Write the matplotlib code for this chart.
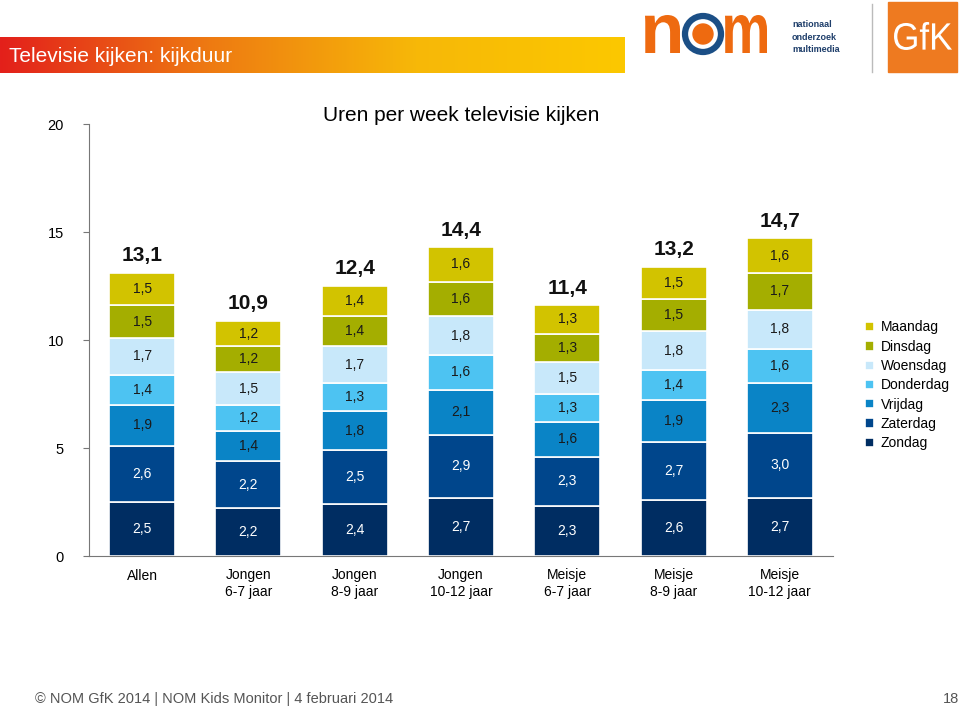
import matplotlib.pyplot as plt
import matplotlib.patches as mpatches
from matplotlib.colors import LinearSegmentedColormap
from matplotlib.textpath import TextPath
from matplotlib.font_manager import FontProperties
from matplotlib.transforms import Affine2D
import numpy as np

plt.rcParams['font.family'] = ['Liberation Sans', 'DejaVu Sans']

categories = ['Allen', 'Jongen\n6-7 jaar', 'Jongen\n8-9 jaar', 'Jongen\n10-12 jaar',
              'Meisje\n6-7 jaar', 'Meisje\n8-9 jaar', 'Meisje\n10-12 jaar']
days = ['Zondag', 'Zaterdag', 'Vrijdag', 'Donderdag', 'Woensdag', 'Dinsdag', 'Maandag']
zondag = [2.5, 2.2, 2.4, 2.7, 2.3, 2.6, 2.7]
zaterdag = [2.6, 2.2, 2.5, 2.9, 2.3, 2.7, 3.0]
vrijdag = [1.9, 1.4, 1.8, 2.1, 1.6, 1.9, 2.3]
donderdag = [1.4, 1.2, 1.3, 1.6, 1.3, 1.4, 1.6]
woensdag = [1.7, 1.5, 1.7, 1.8, 1.5, 1.8, 1.8]
dinsdag = [1.5, 1.2, 1.4, 1.6, 1.3, 1.5, 1.7]
maandag = [1.5, 1.2, 1.4, 1.6, 1.3, 1.5, 1.6]
totals = [13.1, 10.9, 12.4, 14.4, 11.4, 13.2, 14.7]

series = [zondag, zaterdag, vrijdag, donderdag, woensdag, dinsdag, maandag]
colors = ['#002D62', '#00468C', '#0A84C6', '#4DC3F2', '#C8E8FA', '#A4AE00', '#D2C300']
text_colors = ['white', 'white', '#1a1a1a', '#1a1a1a', '#1a1a1a', '#1a1a1a', '#1a1a1a']

fig = plt.figure(figsize=(9.6, 7.08), dpi=100)

# header banner with gradient
hdr = fig.add_axes([0, 1 - 73 / 708, 625 / 960, 36 / 708])
grad = np.linspace(0, 1, 256).reshape(1, -1)
cm = LinearSegmentedColormap.from_list('bn', ['#E3201B', '#EE7A12', '#F7B808', '#FCC800'])
hdr.imshow(grad, aspect='auto', cmap=cm, extent=[0, 1, 0, 1])
hdr.axis('off')
hdr.text(0.014, 0.45, 'Televisie kijken: kijkduur', color='white', fontsize=15,
         va='center', ha='left', transform=hdr.transAxes)

# logos (pixel coordinates, y downwards)
logo = fig.add_axes([0, 1 - 80 / 708, 1, 80 / 708])
logo.set_xlim(0, 960)
logo.set_ylim(80, 0)
logo.axis('off')


def glyph(s, x0, x1, y0, y1, color, weight='bold'):
    tp = TextPath((0, 0), s, size=10, prop=FontProperties(family='Liberation Sans', weight=weight))
    ext = tp.get_extents()
    tr = Affine2D().translate(-ext.x0, -ext.y0).scale((x1 - x0) / ext.width,
                                                       -(y1 - y0) / ext.height).translate(x0, y1)
    logo.add_patch(mpatches.PathPatch(tr.transform_path(tp), color=color, lw=0))


glyph('n', 645, 680, 15, 53, '#EE6A10')
logo.add_patch(mpatches.Circle((703, 34), 18, fill=False, ec='#1B4F86', lw=4.5))
logo.add_patch(mpatches.Circle((703, 34), 10, color='#EE6A10'))
glyph('m', 725, 767, 15, 53, '#EE6A10')
logo.text(792, 37, 'nationaal\nonderzoek\nmultimedia', color='#1F3F6B',
          fontsize=6.5, fontweight='bold', va='center', ha='left', linespacing=1.5)
logo.plot([872, 872], [4, 72], color='#BBBBBB', lw=1)
logo.add_patch(mpatches.Rectangle((888, 2), 69, 70, color='#EE7A20'))
glyph('GfK', 894, 952, 22, 50, 'white', weight='normal')

ax = fig.add_axes([89 / 960, 1 - 556 / 708, (833 - 89) / 960, (556 - 124) / 708])
x = np.arange(len(categories))
bottom = np.zeros(len(categories))
for vals, col, tc, day in zip(series, colors, text_colors, days):
    ax.bar(x, vals, 0.62, bottom=bottom, color=col, edgecolor='white',
           linewidth=1.2, label=day)
    for xi, b, v in zip(x, bottom, vals):
        ax.text(xi, b + v / 2, f'{v:.1f}'.replace('.', ','), ha='center', va='center',
                color=tc, fontsize=10)
    bottom += np.array(vals)

for xi, b, t in zip(x, bottom, totals):
    ax.text(xi, b + 0.35, f'{t:.1f}'.replace('.', ','), ha='center', va='bottom',
            fontsize=15, fontweight='bold', color='#111111')

ax.set_xlim(-0.5, len(categories) - 0.5)
ax.set_ylim(0, 20)
ax.set_yticks([0, 5, 10, 15, 20])
ax.set_xticks(x)
ax.set_xticklabels(categories, fontsize=10)
ax.tick_params(axis='x', length=0, pad=9)
ax.tick_params(axis='y', length=4, labelsize=10.5, color='#777777', pad=14)
for s in ['top', 'right']:
    ax.spines[s].set_visible(False)
ax.spines['left'].set_color('#777777')
ax.spines['bottom'].set_color('#777777')
ax.set_title('Uren per week televisie kijken', fontsize=15, pad=2, y=1.0)

handles, labels = ax.get_legend_handles_labels()
fig.legend(handles[::-1], labels[::-1], loc='upper left',
           bbox_to_anchor=(852 / 960, 1 - 308 / 708), frameon=False,
           fontsize=10, handlelength=0.65, handleheight=0.65,
           handletextpad=0.5, labelspacing=0.38)

fig.text(35 / 960, 1 - 699 / 708, '\u00a9 NOM GfK 2014 | NOM Kids Monitor | 4 februari 2014',
         color='#555555', fontsize=10.5, va='center')
fig.text(951 / 960, 1 - 699 / 708, '18', color='#555555', fontsize=10.5, va='center', ha='center')

fig.savefig('out.png', dpi=100)
